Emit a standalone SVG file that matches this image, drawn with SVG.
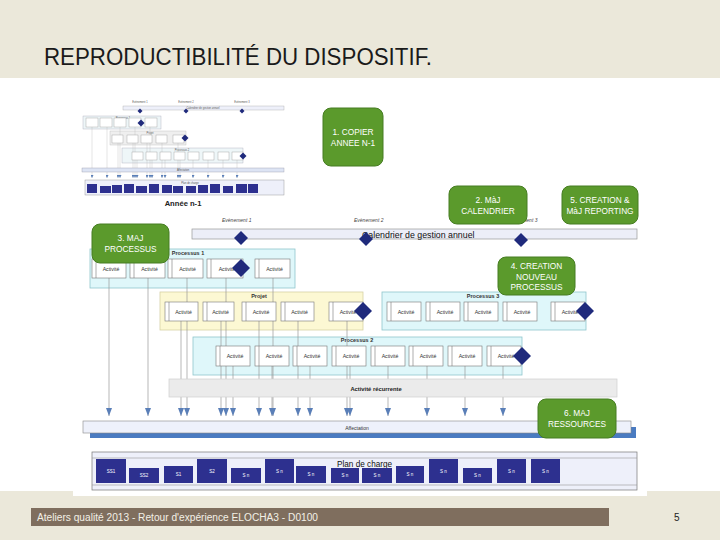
<svg xmlns="http://www.w3.org/2000/svg" width="720" height="540" viewBox="0 0 720 540">
<defs>
<marker id="ah" markerUnits="userSpaceOnUse" markerWidth="8" markerHeight="6" refX="8" refY="3" orient="auto">
<path d="M0,0 L8,3 L0,6 z" fill="#5a7fb8"/>
</marker>
<marker id="ahs" markerUnits="userSpaceOnUse" markerWidth="3" markerHeight="3" refX="3" refY="1.5" orient="auto">
<path d="M0,0 L3,1.5 L0,3 z" fill="#5a7fb8"/>
</marker>
</defs>
<style>
text{font-family:"Liberation Sans",Arial,sans-serif}
.gb rect{fill:#5b9a2c;stroke:#467d22;stroke-width:1}
.gb text{fill:#fff;font-size:8.3px;text-anchor:middle}
.pc{fill:#dff7fa;stroke:#8fc6cc;stroke-width:0.8}
.pj{fill:#fcf8d3;stroke:#d6d1a6;stroke-width:0.8}
.clab{font-size:5.5px;font-weight:bold;text-anchor:middle;fill:#333}
.act rect{fill:#fff;stroke:#777;stroke-width:0.6}
.act line{stroke:#777;stroke-width:0.6}
.act text{font-size:5.2px;text-anchor:middle;fill:#333}
.dia{fill:#1f2a7c}
.conn line{stroke:#9a9a9a;stroke-width:0.7;marker-end:url(#ah)}
.ev{font-size:5px;fill:#444;font-style:italic}
.sb rect{fill:#2d308f}
.sb text{fill:#fff;font-size:4.5px;text-anchor:middle}
.th rect.b{fill:#fff;stroke:#999;stroke-width:0.4}
.th line{stroke:#bbb;stroke-width:0.4}
.tconn line{stroke:#bbb;stroke-width:0.4;marker-end:url(#ahs)}
.tt{font-size:2.6px;fill:#555;text-anchor:middle}
</style>

<!-- background -->
<rect x="0" y="0" width="720" height="540" fill="#ffffff"/>
<rect x="0" y="0" width="720" height="78" fill="#ebe8da"/>
<rect x="0" y="491" width="720" height="49" fill="#ebe8da"/>
<rect x="73" y="491" width="574" height="5" fill="#ffffff"/>
<text x="44" y="65" font-size="23" fill="#1a1a1a" textLength="388" lengthAdjust="spacingAndGlyphs">REPRODUCTIBILITÉ DU DISPOSITIF.</text>

<!-- thumbnail Année n-1 -->
<g id="thumbnail" class="th">
<text class="tt" x="140" y="103">Evènement 1</text>
<text class="tt" x="186" y="103">Evènement 2</text>
<text class="tt" x="242" y="103">Evènement 3</text>
<rect x="123" y="106" width="161" height="4" fill="#eef0fa" stroke="#aaa" stroke-width="0.4"/>
<text class="tt" x="203" y="109">Calendrier de gestion annuel</text>
<rect x="83" y="116" width="78" height="13" fill="#eef6f8" stroke="#aab" stroke-width="0.4"/>
<text class="tt" x="123" y="118.5">Processus 1</text>
<rect x="110" y="131" width="76" height="14" fill="#efefef" stroke="#bbb" stroke-width="0.4"/>
<text class="tt" x="150" y="133.5">Projet</text>
<rect x="122" y="148" width="121" height="15" fill="#eef6f8" stroke="#aab" stroke-width="0.4"/>
<text class="tt" x="182" y="150.5">Processus 2</text>
<g class="tconn">
<line x1="92" y1="127" x2="92" y2="178"/><line x1="107" y1="127" x2="107" y2="178"/><line x1="120" y1="127" x2="120" y2="178"/><line x1="135" y1="127" x2="135" y2="178"/><line x1="150" y1="127" x2="150" y2="178"/>
<line x1="118" y1="143" x2="118" y2="178"/><line x1="133" y1="143" x2="133" y2="178"/><line x1="147" y1="143" x2="147" y2="178"/><line x1="162" y1="143" x2="162" y2="178"/><line x1="178" y1="143" x2="178" y2="178"/>
<line x1="137" y1="160" x2="137" y2="178"/><line x1="152" y1="160" x2="152" y2="178"/><line x1="165" y1="160" x2="165" y2="178"/><line x1="180" y1="160" x2="180" y2="178"/><line x1="193" y1="160" x2="193" y2="178"/><line x1="208" y1="160" x2="208" y2="178"/><line x1="223" y1="160" x2="223" y2="178"/><line x1="237" y1="160" x2="237" y2="178"/>
</g>
<rect class="b" x="86" y="118" width="12" height="9"/><rect class="b" x="100" y="118" width="12" height="9"/><rect class="b" x="114" y="118" width="12" height="9"/><rect class="b" x="129" y="118" width="12" height="9"/><rect class="b" x="145" y="118" width="12" height="9"/>
<rect class="b" x="112" y="135" width="11" height="8"/><rect class="b" x="127" y="135" width="11" height="8"/><rect class="b" x="141" y="135" width="11" height="8"/><rect class="b" x="156" y="135" width="11" height="8"/><rect class="b" x="173" y="135" width="11" height="8"/>
<rect class="b" x="132" y="152" width="11" height="8"/><rect class="b" x="146" y="152" width="11" height="8"/><rect class="b" x="160" y="152" width="11" height="8"/><rect class="b" x="174" y="152" width="11" height="8"/><rect class="b" x="188" y="152" width="11" height="8"/><rect class="b" x="203" y="152" width="11" height="8"/><rect class="b" x="218" y="152" width="11" height="8"/><rect class="b" x="232" y="152" width="11" height="8"/>
<polygon class="dia" points="140,108.5 142.5,111 140,113.5 137.5,111"/>
<polygon class="dia" points="186,108.5 188.5,111 186,113.5 183.5,111"/>
<polygon class="dia" points="242,108.5 244.5,111 242,113.5 239.5,111"/>
<polygon class="dia" points="141,119.5 144.5,123 141,126.5 137.5,123"/>
<polygon class="dia" points="185,134.5 188.5,138 185,141.5 181.5,138"/>
<polygon class="dia" points="243,152.5 246.5,156 243,159.5 239.5,156"/>
<rect x="82" y="168" width="202" height="4" fill="#dde4f4" stroke="#99a" stroke-width="0.4"/>
<text class="tt" x="183" y="171">Affectation</text>
<rect x="85" y="180" width="199" height="15" fill="#eef0fa" stroke="#888" stroke-width="0.4"/>
<text class="tt" x="190" y="184">Plan de charge</text>
<g fill="#2d308f">
<rect x="87" y="184" width="10" height="9"/><rect x="100" y="186" width="11" height="7"/><rect x="112" y="185" width="10" height="8"/><rect x="124" y="184" width="10" height="9"/><rect x="136" y="186" width="11" height="7"/><rect x="149" y="184" width="10" height="9"/><rect x="162" y="185" width="10" height="8"/><rect x="173" y="186" width="10" height="7"/><rect x="186" y="186" width="10" height="7"/><rect x="198" y="185" width="10" height="8"/><rect x="210" y="184" width="10" height="9"/><rect x="223" y="186" width="10" height="7"/><rect x="236" y="184" width="11" height="9"/><rect x="248" y="184" width="10" height="9"/>
</g>
<text x="183" y="206" font-size="7.6" font-weight="bold" fill="#222" text-anchor="middle">Année n-1</text>
</g>

<!-- calendar -->
<g id="calendrier">
<text class="ev" x="222" y="222">Evènement 1</text>
<text class="ev" x="354" y="222">Evènement 2</text>
<text class="ev" x="508" y="222">Evènement 3</text>
<rect x="192" y="229" width="445" height="10" fill="#eceef8" stroke="#999" stroke-width="0.7"/>
<text x="362" y="238" font-size="8.8" fill="#111">Calendrier de gestion annuel</text>
</g>

<!-- containers -->
<g id="processus1"><rect class="pc" x="90" y="249" width="205" height="39"/><text class="clab" x="188" y="255">Processus 1</text></g>
<g id="projet"><rect class="pj" x="160" y="292" width="203" height="38"/><text class="clab" x="259" y="298">Projet</text></g>
<g id="processus3"><rect class="pc" x="382" y="292" width="204" height="38"/><text class="clab" x="483" y="298">Processus 3</text></g>
<g id="processus2"><rect class="pc" x="193" y="337" width="329" height="38"/><text class="clab" x="357" y="342">Processus 2</text></g>

<!-- connectors -->
<g id="connecteurs" class="conn">
<line x1="109" y1="278" x2="109" y2="416"/>
<line x1="148" y1="278" x2="148" y2="416"/>
<line x1="187" y1="278" x2="187" y2="416"/>
<line x1="226" y1="278" x2="226" y2="416"/>
<line x1="273" y1="278" x2="273" y2="416"/>
<line x1="181" y1="321" x2="181" y2="416"/>
<line x1="221" y1="321" x2="221" y2="416"/>
<line x1="259" y1="321" x2="259" y2="416"/>
<line x1="298" y1="321" x2="298" y2="416"/>
<line x1="347" y1="321" x2="347" y2="416"/>
<line x1="233" y1="366" x2="233" y2="416"/>
<line x1="272" y1="366" x2="272" y2="416"/>
<line x1="310" y1="366" x2="310" y2="416"/>
<line x1="350" y1="366" x2="350" y2="416"/>
<line x1="388" y1="366" x2="388" y2="416"/>
<line x1="427" y1="366" x2="427" y2="416"/>
<line x1="465" y1="366" x2="465" y2="416"/>
<line x1="503" y1="366" x2="503" y2="416"/>
</g>

<!-- activities -->
<g id="activites-p1">
<g class="act"><rect x="92" y="259" width="34" height="19"/><line x1="96" y1="259" x2="96" y2="278"/><text x="111" y="270.5">Activité</text></g>
<g class="act"><rect x="130" y="259" width="35" height="19"/><line x1="134" y1="259" x2="134" y2="278"/><text x="149.5" y="270.5">Activité</text></g>
<g class="act"><rect x="168" y="259" width="35" height="19"/><line x1="172" y1="259" x2="172" y2="278"/><text x="187.5" y="270.5">Activité</text></g>
<g class="act"><rect x="207" y="259" width="36" height="19"/><line x1="211" y1="259" x2="211" y2="278"/><text x="227" y="270.5">Activité</text></g>
<g class="act"><rect x="255" y="259" width="35" height="19"/><line x1="259" y1="259" x2="259" y2="278"/><text x="274.5" y="270.5">Activité</text></g>
</g>
<g id="activites-projet">
<g class="act"><rect x="165" y="302" width="33" height="19"/><line x1="169" y1="302" x2="169" y2="321"/><text x="183.5" y="313.5">Activité</text></g>
<g class="act"><rect x="203" y="302" width="31" height="19"/><line x1="207" y1="302" x2="207" y2="321"/><text x="220.5" y="313.5">Activité</text></g>
<g class="act"><rect x="242" y="302" width="34" height="19"/><line x1="246" y1="302" x2="246" y2="321"/><text x="261" y="313.5">Activité</text></g>
<g class="act"><rect x="281" y="302" width="33" height="19"/><line x1="285" y1="302" x2="285" y2="321"/><text x="299.5" y="313.5">Activité</text></g>
<g class="act"><rect x="329" y="302" width="34" height="19"/><line x1="333" y1="302" x2="333" y2="321"/><text x="348" y="313.5">Activité</text></g>
</g>
<g id="activites-p3">
<g class="act"><rect x="387" y="302" width="34" height="19"/><line x1="391" y1="302" x2="391" y2="321"/><text x="406" y="313.5">Activité</text></g>
<g class="act"><rect x="426" y="302" width="34" height="19"/><line x1="430" y1="302" x2="430" y2="321"/><text x="445" y="313.5">Activité</text></g>
<g class="act"><rect x="464" y="302" width="34" height="19"/><line x1="468" y1="302" x2="468" y2="321"/><text x="483" y="313.5">Activité</text></g>
<g class="act"><rect x="503" y="302" width="34" height="19"/><line x1="507" y1="302" x2="507" y2="321"/><text x="522" y="313.5">Activité</text></g>
<g class="act"><rect x="551" y="302" width="34" height="19"/><line x1="555" y1="302" x2="555" y2="321"/><text x="570" y="313.5">Activité</text></g>
</g>
<g id="activites-p2">
<g class="act"><rect x="216" y="346" width="34" height="20"/><line x1="220" y1="346" x2="220" y2="366"/><text x="235" y="358">Activité</text></g>
<g class="act"><rect x="255" y="346" width="34" height="20"/><line x1="259" y1="346" x2="259" y2="366"/><text x="274" y="358">Activité</text></g>
<g class="act"><rect x="293" y="346" width="34" height="20"/><line x1="297" y1="346" x2="297" y2="366"/><text x="312" y="358">Activité</text></g>
<g class="act"><rect x="332" y="346" width="34" height="20"/><line x1="336" y1="346" x2="336" y2="366"/><text x="351" y="358">Activité</text></g>
<g class="act"><rect x="371" y="346" width="34" height="20"/><line x1="375" y1="346" x2="375" y2="366"/><text x="390" y="358">Activité</text></g>
<g class="act"><rect x="409" y="346" width="34" height="20"/><line x1="413" y1="346" x2="413" y2="366"/><text x="428" y="358">Activité</text></g>
<g class="act"><rect x="448" y="346" width="34" height="20"/><line x1="452" y1="346" x2="452" y2="366"/><text x="467" y="358">Activité</text></g>
<g class="act"><rect x="487" y="346" width="34" height="20"/><line x1="491" y1="346" x2="491" y2="366"/><text x="506" y="358">Activité</text></g>
</g>

<!-- milestones -->
<g id="jalons">
<polygon class="dia" points="241,231 248,238 241,245 234,238"/>
<polygon class="dia" points="366,232 373,239 366,246 359,239"/>
<polygon class="dia" points="521,233 528,240 521,247 514,240"/>
<polygon class="dia" points="241,259 250,268 241,277 232,268"/>
<polygon class="dia" points="363,302 372,311 363,320 354,311"/>
<polygon class="dia" points="585,302 594,311 585,320 576,311"/>
<polygon class="dia" points="522,347 531,356 522,365 513,356"/>
</g>

<!-- recurring activity -->
<g id="activite-recurrente">
<rect x="169" y="379" width="448" height="18" fill="#ebebeb" stroke="#cfcfcf" stroke-width="0.7"/>
<text x="376" y="391" font-size="5.8" font-weight="bold" fill="#222" text-anchor="middle">Activité récurrente</text>
</g>

<!-- affectation -->
<g id="affectation">
<rect x="90" y="427" width="546" height="11" fill="#4a7bc1"/>
<rect x="83" y="421" width="548" height="12" fill="#eef1fb" stroke="#888" stroke-width="0.6"/>
<text x="357" y="429.5" font-size="5" fill="#333" text-anchor="middle">Affectation</text>
</g>

<!-- plan de charge -->
<g id="plan-de-charge">
<rect x="92" y="452" width="545" height="38" fill="#eef0fa" stroke="#777" stroke-width="0.7"/>
<line x1="92" y1="458" x2="637" y2="458" stroke="#999" stroke-width="0.6"/>
<line x1="92" y1="485" x2="637" y2="485" stroke="#999" stroke-width="0.6"/>
<text x="337" y="467" font-size="8.2" fill="#111">Plan de charge</text>
<g class="sb">
<rect x="96" y="459" width="30" height="24"/><text x="111" y="472.5">SS1</text>
<rect x="129" y="468" width="30" height="15"/><text x="144" y="477">SS2</text>
<rect x="164" y="466" width="29" height="17"/><text x="178.5" y="476">S1</text>
<rect x="197" y="459" width="30" height="24"/><text x="212" y="472.5">S2</text>
<rect x="231" y="468" width="30" height="15"/><text x="246" y="477">S n</text>
<rect x="265" y="459" width="29" height="24"/><text x="279.5" y="472.5">S n</text>
<rect x="296" y="466" width="30" height="17"/><text x="311" y="476">S n</text>
<rect x="331" y="468" width="28" height="15"/><text x="345" y="477">S n</text>
<rect x="362" y="468" width="30" height="15"/><text x="377" y="477">S n</text>
<rect x="396" y="466" width="28" height="17"/><text x="410" y="476">S n</text>
<rect x="429" y="459" width="29" height="24"/><text x="443.5" y="472.5">S n</text>
<rect x="463" y="468" width="29" height="15"/><text x="477.5" y="477">S n</text>
<rect x="497" y="459" width="29" height="24"/><text x="511.5" y="472.5">S n</text>
<rect x="531" y="459" width="29" height="24"/><text x="545.5" y="472.5">S n</text>
</g>
</g>

<!-- green steps -->
<g id="etape1" class="gb"><rect x="323" y="108" width="60" height="58" rx="8"/><text x="353" y="135">1. COPIER</text><text x="353" y="146">ANNEE N-1</text></g>
<g id="etape2" class="gb"><rect x="449" y="186" width="78" height="38" rx="8"/><text x="488" y="203">2. MàJ</text><text x="488" y="214">CALENDRIER</text></g>
<g id="etape5" class="gb"><rect x="562" y="186" width="76" height="38" rx="8"/><text x="600" y="203">5. CREATION &amp;</text><text x="600" y="214">MàJ REPORTING</text></g>
<g id="etape3" class="gb"><rect x="92" y="224" width="77" height="39" rx="8"/><text x="130.5" y="241">3. MAJ</text><text x="130.5" y="252">PROCESSUS</text></g>
<g id="etape4" class="gb"><rect x="498" y="257" width="77" height="38" rx="8"/><text x="536.5" y="269">4. CREATION</text><text x="536.5" y="279.5">NOUVEAU</text><text x="536.5" y="290">PROCESSUS</text></g>
<g id="etape6" class="gb"><rect x="538" y="399" width="78" height="39" rx="8"/><text x="577" y="416">6. MAJ</text><text x="577" y="427">RESSOURCES</text></g>

<!-- footer -->
<rect x="31" y="508" width="578" height="18" fill="#7f6e5e"/>
<text x="37" y="520.5" font-size="10" fill="#f3f0e6" textLength="281" lengthAdjust="spacingAndGlyphs">Ateliers qualité 2013 - Retour d'expérience ELOCHA3 - D0100</text>
<text x="674" y="521" font-size="10" fill="#222">5</text>
</svg>
